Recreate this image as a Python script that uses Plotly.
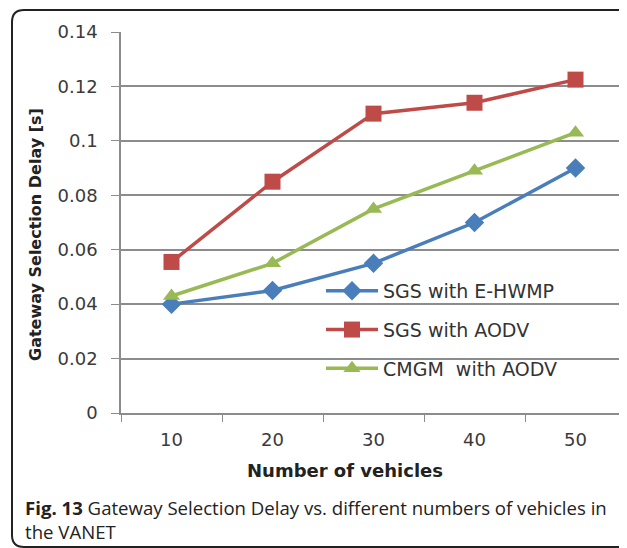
import plotly.graph_objects as go

vehicles = ["10", "20", "30", "40", "50"]
sgs_ehwmp = [0.040, 0.045, 0.055, 0.070, 0.090]
sgs_aodv = [0.0555, 0.085, 0.110, 0.114, 0.1225]
cmgm_aodv = [0.043, 0.055, 0.075, 0.089, 0.103]
y_ticks = [0, 0.02, 0.04, 0.06, 0.08, 0.1, 0.12, 0.14]
y_tick_text = ["0", "0.02", "0.04", "0.06", "0.08", "0.1", "0.12", "0.14"]

# page body adds an 8px margin, so the figure is 8px smaller and shifted
OFF = 8
W, H = 627 - OFF, 548 - OFF
L, R, T, B = 121 - OFF, 1, 32 - OFF, 548 - 413
PW, PH = W - L - R, H - T - B


def px(x):
    return (x - OFF - L) / PW


def py(y):
    return (H - B - (y - OFF)) / PH


series = [
    ("SGS with E-HWMP", sgs_ehwmp, "#4A7EBB", "diamond", 15),
    ("SGS with AODV", sgs_aodv, "#BE4B48", "square", 16),
    ("CMGM  with AODV", cmgm_aodv, "#98B954", "triangle-up", 15),
]

fig = go.Figure()
for i, (name, vals, color, symbol, size) in enumerate(series):
    fig.add_trace(
        go.Scatter(
            x=vehicles,
            y=vals,
            name=name,
            legendgroup=f"g{i}",
            mode="lines+markers",
            line=dict(color=color, width=3.5),
            marker=dict(symbol=symbol, size=size, color=color),
        )
    )

# rounded frame around chart + caption
x0, x1, y0, y1 = px(12), px(660), py(547), py(10)
rx, ry = 12 / PW, 12 / PH
frame = (
    f"M {x0 + rx},{y1} L {x1},{y1} M {x1},{y0} L {x0 + rx},{y0} "
    f"Q {x0},{y0} {x0},{y0 + ry} L {x0},{y1 - ry} Q {x0},{y1} {x0 + rx},{y1}"
)

tick_font = dict(family="DejaVu Sans, sans-serif", size=18, color="#3a3a3a")

fig.update_layout(
    width=W,
    height=H,
    margin=dict(l=L, r=R, t=T, b=B),
    plot_bgcolor="white",
    paper_bgcolor="white",
    font=dict(family="DejaVu Sans, sans-serif", color="#333333"),
    showlegend=True,
    legend=dict(
        x=px(321),
        y=py(272),
        xanchor="left",
        yanchor="top",
        bgcolor="rgba(0,0,0,0)",
        font=dict(size=19, color="#333333"),
        itemwidth=52,
        tracegroupgap=11,
    ),
    xaxis=dict(
        type="category",
        range=[-0.5, 4.5],
        showline=True,
        linecolor="#8c8c8c",
        linewidth=1.5,
        ticks="outside",
        tickson="boundaries",
        ticklen=7,
        tickcolor="#8c8c8c",
        showgrid=False,
        tickfont=tick_font,
        ticklabelstandoff=10,
    ),
    yaxis=dict(
        range=[0, 0.14],
        tickvals=y_ticks,
        ticktext=y_tick_text,
        showline=True,
        linecolor="#8c8c8c",
        linewidth=1.5,
        ticks="outside",
        ticklen=8,
        tickcolor="#8c8c8c",
        showgrid=True,
        gridcolor="#8c8c8c",
        gridwidth=1.5,
        tickfont=tick_font,
        ticklabelstandoff=10,
        zeroline=False,
    ),
    shapes=[
        dict(type="line", xref="paper", yref="paper", x0=1, x1=1, y0=0, y1=1,
             line=dict(color="#222222", width=2)),
        dict(type="path", xref="paper", yref="paper", path=frame,
             line=dict(color="#222222", width=2)),
    ],
    annotations=[
        dict(text="<b>Number of vehicles</b>", xref="paper", yref="paper",
             x=px(345), y=py(470), showarrow=False, xanchor="center", yanchor="middle",
             font=dict(family="DejaVu Sans, sans-serif", size=18, color="#222222")),
        dict(text="<b>Gateway Selection Delay [s]</b>", xref="paper", yref="paper",
             x=px(35), y=py(235), showarrow=False, textangle=-90,
             xanchor="center", yanchor="middle",
             font=dict(family="DejaVu Sans, sans-serif", size=16, color="#222222")),
        dict(text="<b>Fig. 13</b> Gateway Selection Delay vs. different numbers of vehicles in<br>the VANET",
             xref="paper", yref="paper", x=px(23), y=py(519), showarrow=False,
             xanchor="left", yanchor="middle", align="left",
             font=dict(family="Open Sans, sans-serif", size=18.6, color="#222222")),
    ],
)

fig.write_html("out.html")
